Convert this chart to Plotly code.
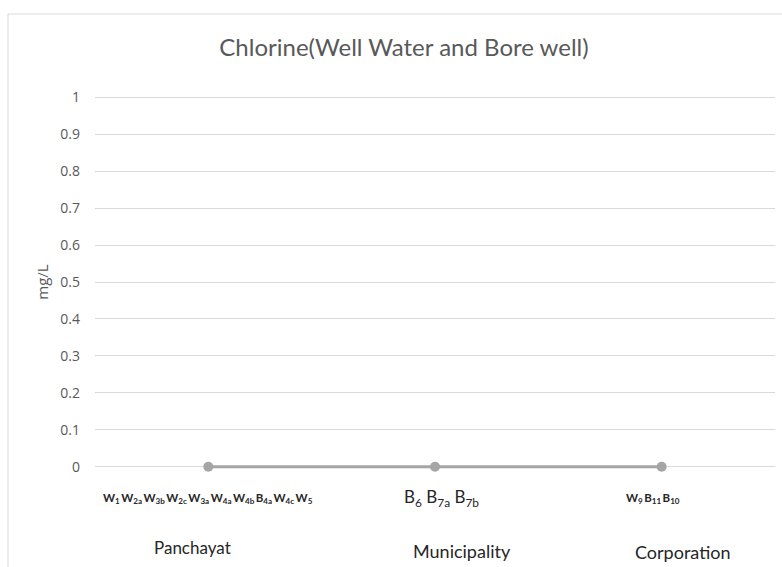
import plotly.graph_objects as go

# Chlorine concentration by local-body type (mg/L)
groups = ["Panchayat", "Municipality", "Corporation"]
chlorine = [0, 0, 0]
sample_labels = [
    "<b>W<sub>1</sub>&#8201;W<sub>2a</sub>&#8201;W<sub>3b</sub>&#8201;W<sub>2c</sub>&#8201;W<sub>3a</sub>&#8201;"
    "W<sub>4a</sub>&#8201;W<sub>4b</sub>&#8201;B<sub>4a</sub>&#8201;W<sub>4c</sub>&#8201;W<sub>5</sub></b>",
    "B<sub>6</sub> B<sub>7a</sub> B<sub>7b</sub>",
    "<b>W<sub>9</sub>&#8201;B<sub>11</sub>&#8201;B<sub>10</sub></b>",
]
y_ticks = [0, 0.1, 0.2, 0.3, 0.4, 0.5, 0.6, 0.7, 0.8, 0.9, 1]

W, H = 782, 567
pad = 0.006  # headroom so the 0 and 1 gridlines are drawn
px_per_unit = 370
ML, MR = 95, 7
MT = 97 - round(pad * px_per_unit)
MB = 100 - round(pad * px_per_unit)
plot_w = W - ML - MR
plot_h = H - MT - MB

fig = go.Figure()
fig.add_trace(go.Scatter(
    x=groups, y=chlorine, mode="lines+markers",
    line=dict(color="#a5a5a5", width=3),
    marker=dict(color="#a5a5a5", size=10),
    cliponaxis=False, showlegend=False,
))

# label rows below the axis: offsets relative to each category centre
sample_dx = [0.0, 0.03, -0.04]
sample_y_px = [498, 498, 498]
group_dx = [-0.07, 0.12, 0.09]
group_y_px = [547, 551, 552]
group_size = [17, 18, 18]


def paper_y(px):
    return (H - MB - px) / plot_h


annotations = []
for i, (g, s) in enumerate(zip(groups, sample_labels)):
    bold_row = i != 1
    annotations.append(dict(
        x=i + sample_dx[i], y=paper_y(sample_y_px[i]), xref="x", yref="paper", text=s,
        showarrow=False, xanchor="center", yanchor="middle",
        font=dict(family="Lato, sans-serif", size=11.5 if bold_row else 17, color="#262626"),
    ))
    annotations.append(dict(
        x=i + group_dx[i], y=paper_y(group_y_px[i]), xref="x", yref="paper", text=g,
        showarrow=False, xanchor="center", yanchor="middle",
        font=dict(family="Lato, sans-serif", size=group_size[i], color="#262626"),
    ))

fig.update_layout(
    width=W, height=H,
    margin=dict(l=ML, r=MR, t=MT, b=MB),
    paper_bgcolor="white", plot_bgcolor="white",
    title=dict(text="Chlorine(Well Water and Bore well)", x=404 / W, xanchor="center",
               y=1 - 48 / H, yanchor="middle",
               font=dict(family="Lato, sans-serif", size=24, color="#595959")),
    xaxis=dict(type="category", range=[-0.5, 2.5], showticklabels=False,
               showgrid=False, zeroline=False, showline=False, ticks=""),
    yaxis=dict(range=[-pad, 1 + pad], tickvals=y_ticks, ticktext=[f"{v:g}" for v in y_ticks],
               showgrid=True, gridcolor="#d9d9d9", gridwidth=1,
               zeroline=False, showline=False, ticks="", ticklabelstandoff=14,
               tickfont=dict(family="Open Sans, sans-serif", size=14, color="#595959"),
               title=dict(text="mg/L", standoff=8,
                          font=dict(family="Open Sans, sans-serif", size=15, color="#595959"))),
    annotations=annotations,
    shapes=[dict(type="rect", xref="paper", yref="paper",
                 x0=(8 - ML) / plot_w, x1=1.2, y0=-0.5, y1=paper_y(14),
                 line=dict(color="#d9d9d9", width=1), layer="below")],
)

fig.write_html("out.html")
